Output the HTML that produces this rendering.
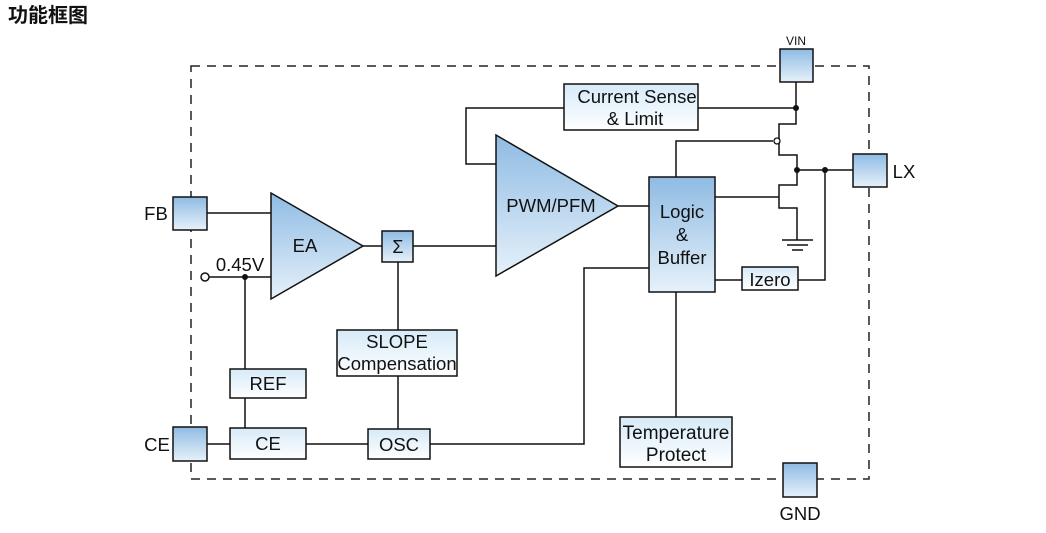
<!DOCTYPE html>
<html><head><meta charset="utf-8"><style>
body{margin:0;background:#fff;width:1046px;height:528px;overflow:hidden}
svg text{font-family:"Liberation Sans",Arial,sans-serif;fill:#111}
</style></head><body>
<svg width="1046" height="528" viewBox="0 0 1046 528" xmlns="http://www.w3.org/2000/svg">
<defs>
<linearGradient id="g1" x1="0" y1="0" x2="0" y2="1"><stop offset="0" stop-color="#8fbbe3"/><stop offset="1" stop-color="#e6f1fa"/></linearGradient>
<linearGradient id="g2" x1="0" y1="0" x2="0" y2="1"><stop offset="0" stop-color="#d6eaf8"/><stop offset="1" stop-color="#ffffff"/></linearGradient>
</defs>
<text x="8" y="22" font-size="20" font-weight="bold" style="font-family:'Liberation Sans','Noto Sans CJK SC',sans-serif">功能框图</text>
<rect x="191" y="66" width="678" height="413" fill="none" stroke="#222" stroke-width="1.5" stroke-dasharray="9,7"/>
<g stroke="#111" stroke-width="1.5" fill="none">
<polyline points="207,213 271,213"/>
<polyline points="209,277 271,277"/>
<polyline points="245,277 245,369"/>
<polyline points="245,398 245,428"/>
<polyline points="207,444 230,444"/>
<polyline points="306,444 368,444"/>
<polyline points="430,444 584,444 584,268 649,268"/>
<polyline points="363,246 382,246"/>
<polyline points="413,246 496,246"/>
<polyline points="398,262 398,330"/>
<polyline points="398,376 398,429"/>
<polyline points="564,108 466,108 466,164 496,164"/>
<polyline points="618,206 649,206"/>
<polyline points="676,292 676,417"/>
<polyline points="698,108 796,108"/>
<polyline points="796,82 796,124 779,124 779,155 797,155 797,185 779,185 779,208 797,208 797,240"/>
<polyline points="676,177 676,141 773,141"/>
<polyline points="715,197 779,197"/>
<polyline points="797,170 853,170"/>
<polyline points="715,280 742,280"/>
<polyline points="798,280 825,280 825,170"/>
<line x1="782" y1="240" x2="813" y2="240"/>
<line x1="787" y1="245" x2="808" y2="245"/>
<line x1="792" y1="250" x2="803" y2="250"/>
</g>
<circle cx="777" cy="141" r="3" fill="#fff" stroke="#111" stroke-width="1.3"/>
<circle cx="205" cy="277" r="4" fill="#fff" stroke="#111" stroke-width="1.5"/>
<g fill="#111"><circle cx="245" cy="277" r="3"/><circle cx="796" cy="108" r="3"/><circle cx="797" cy="170" r="3"/><circle cx="825" cy="170" r="3"/></g>
<polygon points="271,193 271,299 363,246" fill="url(#g1)" stroke="#111" stroke-width="1.5"/>
<polygon points="496,135 496,276 618,206" fill="url(#g1)" stroke="#111" stroke-width="1.5"/>
<g fill="url(#g1)" stroke="#111" stroke-width="1.5">
<rect x="173" y="197" width="34" height="33"/>
<rect x="173" y="427" width="34" height="34"/>
<rect x="780" y="49" width="33" height="33"/>
<rect x="853" y="154" width="34" height="33"/>
<rect x="783" y="463" width="34" height="34"/>
<rect x="382" y="231" width="31" height="31"/>
<rect x="649" y="177" width="66" height="115"/>
</g>
<g fill="url(#g2)" stroke="#111" stroke-width="1.5">
<rect x="564" y="84" width="134" height="46"/>
<rect x="337" y="330" width="120" height="46"/>
<rect x="230" y="369" width="76" height="29"/>
<rect x="230" y="428" width="76" height="31"/>
<rect x="368" y="429" width="62" height="30"/>
<rect x="620" y="417" width="112" height="50"/>
<rect x="742" y="267" width="56" height="23"/>
</g>
<g font-size="18.5" text-anchor="middle">
<text x="305" y="252">EA</text>
<text x="551" y="212">PWM/PFM</text>
<text x="398" y="253" font-size="18">Σ</text>
<text x="682" y="218">Logic</text>
<text x="682" y="241">&amp;</text>
<text x="682" y="264">Buffer</text>
<text x="637" y="103">Current Sense</text>
<text x="635" y="125">&amp; Limit</text>
<text x="397" y="348">SLOPE</text>
<text x="397" y="370">Compensation</text>
<text x="268" y="390">REF</text>
<text x="268" y="450">CE</text>
<text x="399" y="451">OSC</text>
<text x="676" y="439" font-size="19">Temperature</text>
<text x="676" y="461" font-size="19">Protect</text>
<text x="770" y="286">Izero</text>
<text x="240" y="271">0.45V</text>
<text x="156" y="220">FB</text>
<text x="157" y="451">CE</text>
<text x="904" y="178">LX</text>
<text x="800" y="520">GND</text>
<text x="796" y="45" font-size="12">VIN</text>
</g>
</svg>
</body></html>
